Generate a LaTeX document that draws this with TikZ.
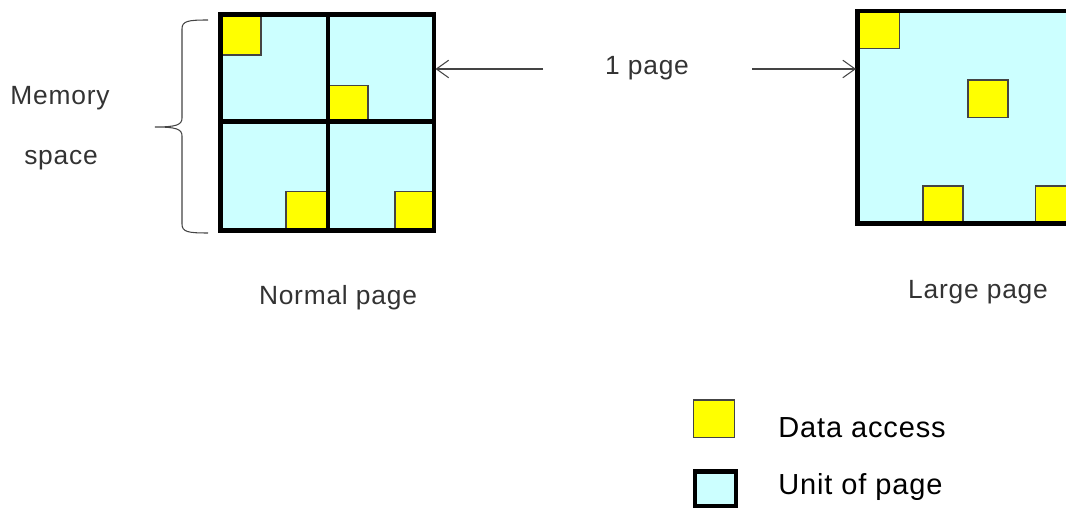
\documentclass[tikz,border=0pt]{standalone}
\usepackage{fontspec}
\setmainfont{Liberation Sans}[LetterSpace=3]
\definecolor{PGcyan}{HTML}{CCFFFF}
\definecolor{PGyellow}{HTML}{FFFF00}
\definecolor{PGtext}{HTML}{333333}
\definecolor{PGline}{HTML}{444444}
\usetikzlibrary{arrows.meta, positioning}

\tikzset{
   pagefill/.style={fill=PGcyan},
   pageline/.style={draw=black, line width=2.5pt},
   access/.style={fill=PGyellow, draw=PGline, line width=0.6pt},
   pagearrow/.style={draw=PGline, line width=0.6pt, -{Straight Barb[length=7pt, width=10pt]}},
   label/.style={text=PGtext, font=\fontsize{15}{18}\selectfont, inner sep=0pt},
   legendtext/.style={text=black, font=\fontsize{16.5}{19}\selectfont, inner sep=0pt, anchor=west}
}

\begin{document}
\begin{tikzpicture}[x=0.02cm, y=-0.02cm]
   \clip (0,0) rectangle (1066,509);
   % Normal page: four units
   \fill[pagefill] (220.5,14.5) rectangle (434,230.5);
   \draw[access] (220.5,14.5) rectangle (261,55);
   \draw[access] (328,85.7) rectangle (368,121.5);
   \draw[access] (286,191.7) rectangle (328,230.5);
   \draw[access] (395,191.7) rectangle (434,230.5);
   \draw[pageline] (220.5,14.5) rectangle (434,230.5);
   \draw[pageline] (328,14.5) -- (328,230.5);
   \draw[pageline] (220.5,121.5) -- (434,121.5);
   \coordinate (normalE) at (435.5,69);
   % Memory space brace
   \draw[draw=PGline, line width=0.6pt]
      (208,20) .. controls (188,20) and (182,21) .. (182,29) -- (182,118)
      .. controls (182,125) and (176,127) .. (155,127)
      .. controls (176,127) and (182,129) .. (182,136) -- (182,224)
      .. controls (182,232) and (188,233) .. (208,233);
   \node[label] (memory) at (60,98) {Memory};
   \node[label] (space) at (61,160) {space};
   \node[label] (normal) at (338,298) {Normal page};
   % Large page: one unit
   \fill[pagefill] (857.5,11.3) rectangle (1080,223.5);
   \draw[access] (857.5,11.3) rectangle (899.3,48.3);
   \draw[access] (968,80) rectangle (1008,117.7);
   \draw[access] (923,186) rectangle (963,223.5);
   \draw[access] (1035.7,186) rectangle (1075,223.5);
   \draw[pageline] (857.5,11.3) rectangle (1080,223.5);
   \coordinate (largeW) at (856,69);
   \node[label] (large) at (978,292) {Large page};
   % 1 page arrows
   \node[label] (onepage) at (647,68) {1 page};
   \coordinate (leftstart) at (543,69);
   \coordinate (rightstart) at (752,69);
   \draw[pagearrow] (leftstart) -- (normalE);
   \draw[pagearrow] (rightstart) -- (largeW);
   % Legend
   \draw[access] (693.3,400) rectangle (734.3,437.7);
   \node[legendtext] (data) at (778,428) {Data access};
   \draw[pagefill, pageline] (695,471.5) rectangle (736,506);
   \node[legendtext] (unit) at (778,487) {Unit of page};
\end{tikzpicture}
\end{document}
